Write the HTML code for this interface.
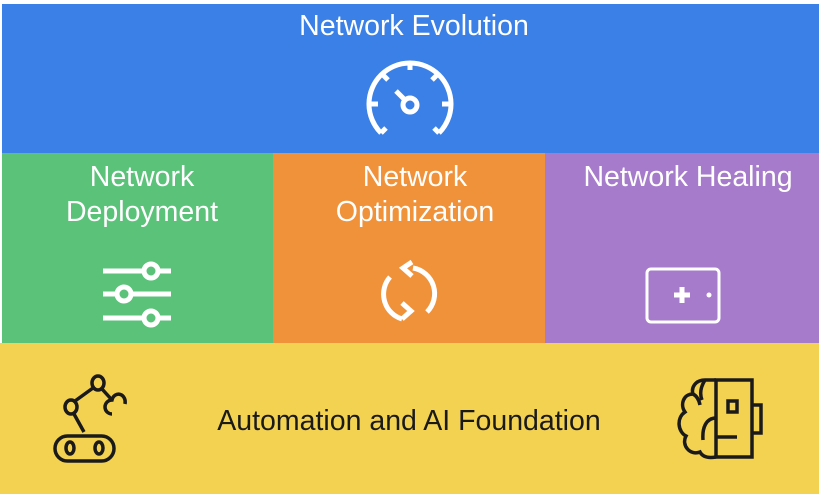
<!DOCTYPE html>
<html><head><style>
body{margin:0;width:819px;height:494px;background:#fff;position:relative;overflow:hidden;font-family:"Liberation Sans",sans-serif;}
div.b{position:absolute;}
.t{position:absolute;color:#fff;font-size:28.5px;text-align:center;line-height:35px;}
</style></head><body>
<div class="b" style="left:2px;top:4px;width:817px;height:149px;background:#3a80e6"></div>
<div class="b" style="left:2px;top:153px;width:271px;height:190px;background:#5bc27a"></div>
<div class="b" style="left:273px;top:153px;width:272px;height:190px;background:#f0923a"></div>
<div class="b" style="left:545px;top:153px;width:274px;height:190px;background:#a77bcb"></div>
<div class="b" style="left:0;top:343px;width:819px;height:151px;background:#f4d251"></div>
<div class="t" style="left:164px;top:9px;width:500px">Network Evolution</div>
<div class="t" style="left:2px;top:160px;width:280px">Network<br>Deployment</div>
<div class="t" style="left:275px;top:160px;width:280px">Network<br>Optimization</div>
<div class="t" style="left:538px;top:160px;width:300px">Network Healing</div>
<div class="t" style="left:109px;top:404px;width:600px;color:#1a1a1a">Automation and AI Foundation</div>
<svg width="819" height="494" style="position:absolute;left:0;top:0" fill="none" stroke-linecap="butt">
<g stroke="#fff" stroke-width="5">
<path d="M381,133 A41,41 0 1 1 439,133"/>
<path d="M410,62 v8 M382,74 l6,6 M438,74 l-6,6 M370,104 h8 M450,104 h-8 M381,133 l5,-5 M439,133 l-5,-5"/>
<circle cx="410" cy="105" r="7"/>
<path d="M405,100 L396,91"/>
<path d="M103,271 H144 M158,271 H171 M103,294 H117 M131,294 H171 M103,318 H144 M158,318 H171"/>
<circle cx="151" cy="271" r="7"/><circle cx="124" cy="294" r="7"/><circle cx="151" cy="318" r="7"/>
<path d="M390,277 A26,26 0 0 0 402,319"/>
<path d="M427,312 A26,26 0 0 0 413,268"/>
<path d="M404,311 l9,8 l-9,8" transform="translate(-2,-8)"/>
<path d="M412,262 l-9,6 l9,8"/>
<rect x="647" y="269" width="72" height="53" rx="4" stroke-width="3"/>
<path d="M682,287 v16 M674,295 h16" stroke-width="5"/>
</g>
<circle cx="709" cy="295" r="2.5" fill="#fff"/>
<g stroke="#1a1a1a" stroke-width="3.5">
<rect x="55" y="436" width="59" height="25" rx="12.5"/>
<ellipse cx="70" cy="448" rx="4" ry="6"/><ellipse cx="99" cy="448" rx="4" ry="6"/>
<path d="M84,432 L74,414"/>
<ellipse cx="71" cy="407" rx="6" ry="7"/>
<path d="M75,401 L93,388"/>
<ellipse cx="98" cy="383" rx="6" ry="7"/>
<path d="M102,389 L112,400"/>
<path d="M112,414 A6,6 0 0 1 112,400 A6,7 0 0 1 125,404"/>
<rect x="716" y="380" width="36" height="77"/>
<rect x="728" y="401" width="9" height="11"/>
<path d="M752,405 H761 V433 H752 M716,437 H737"/>
<path d="M716,380 H705 C695,380 691,388 693,394 C683,394 680,405 685,412 C676,418 678,432 686,436 C681,445 690,456 700,452 C703,458 710,458 716,457"/>
<path d="M705,380 C700,388 700,395 702,400 M716,418 C706,418 702,428 703,440 M693,394 C697,396 699,400 700,405"/>
</g>
</svg>
</body></html>
